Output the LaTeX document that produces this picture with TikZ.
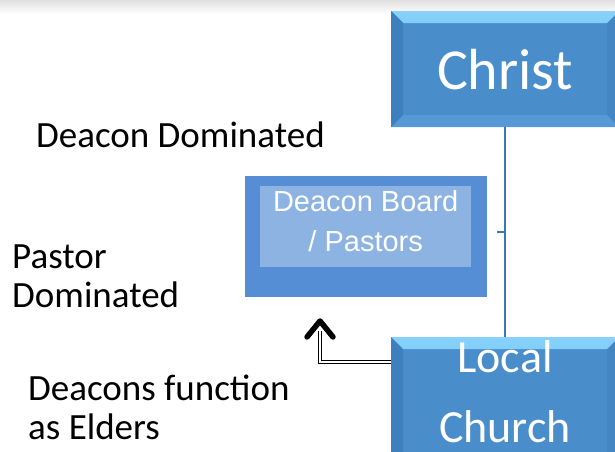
\documentclass[tikz,border=0pt]{standalone}
\usepackage{fontspec}
\setmainfont{Carlito}
\newfontfamily\boardfont{Liberation Sans}
\usetikzlibrary{positioning}

\definecolor{boxblue}{HTML}{4A8DCB}
\definecolor{bevtop}{HTML}{86D2FC}
\definecolor{bevtopb}{HTML}{58A6E2}
\definecolor{bevleft}{HTML}{3E7FC0}
\definecolor{bevbot}{HTML}{5599D6}
\definecolor{bevright}{HTML}{4486C4}
\definecolor{outerblue}{HTML}{558ED5}
\definecolor{innerblue}{HTML}{8DB3E2}
\definecolor{trunkblue}{HTML}{3C78B0}

\tikzset{
  bevelbox/.style={fill=boxblue, inner sep=0pt, text=white,
    path picture={
      \shade[top color=bevtop, bottom color=bevtopb]
        (path picture bounding box.north west) -- (path picture bounding box.north east)
        -- ([xshift=-12pt,yshift=-12pt]path picture bounding box.north east)
        -- ([xshift=12pt,yshift=-12pt]path picture bounding box.north west) -- cycle;
      \fill[bevleft]
        (path picture bounding box.north west) -- ([xshift=12pt,yshift=-12pt]path picture bounding box.north west)
        -- ([xshift=12pt,yshift=12pt]path picture bounding box.south west)
        -- (path picture bounding box.south west) -- cycle;
      \fill[bevbot]
        (path picture bounding box.south west) -- ([xshift=12pt,yshift=12pt]path picture bounding box.south west)
        -- ([xshift=-12pt,yshift=12pt]path picture bounding box.south east)
        -- (path picture bounding box.south east) -- cycle;
      \fill[bevright]
        (path picture bounding box.north east) -- ([xshift=-12pt,yshift=-12pt]path picture bounding box.north east)
        -- ([xshift=-12pt,yshift=12pt]path picture bounding box.south east)
        -- (path picture bounding box.south east) -- cycle;
    }},
  bigword/.style={text=white, inner sep=0pt, font=\fontsize{46}{70}\selectfont},
  sidetext/.style={inner sep=0pt, align=left, font=\fontsize{37}{39}\selectfont},
  trunk/.style={trunkblue, line width=2pt},
  twoline/.style={double, line width=1.3pt, double distance=2pt},
  headline/.style={line width=5.5pt, line cap=round, line join=round}
}

\begin{document}
\begin{tikzpicture}[x=1pt, y=-1pt]
\useasboundingbox (0,0) rectangle (615,451);
\shade[top color=black!12, bottom color=white] (0,0) rectangle (615,14);

% boxes on the right
\node[bevelbox, anchor=north west, minimum width=228pt, minimum height=116pt,
  font=\fontsize{58}{68}\selectfont] (christ) at (391,11) {Christ};
\node[bevelbox, anchor=north west, minimum width=228pt, minimum height=130pt] (church) at (391,337) {};
\node[bigword, anchor=base] (local) at (505,372) {Local};
\node[bigword, anchor=base] (churchword) at (505,442) {Church};

% deacon board
\node[fill=outerblue, minimum width=242pt, minimum height=121pt, anchor=north west] (board) at (245,176) {};
\node[fill=innerblue, minimum width=211pt, minimum height=81pt, inner sep=0pt, anchor=north west,
  text=white, align=center, text depth=12pt, font=\boardfont\fontsize{29}{40}\selectfont]
  (boardname) at (260,186) {Deacon Board\\/ Pastors};

\draw[trunk] (christ.south) -- (christ.south |- church.north);
\coordinate (stub) at (505,232);
\draw[trunk] (stub) -- ++(-8,0);

% arrow
\coordinate (head) at (320,321);
\coordinate (stem) at (320,331);
\draw[twoline] ([yshift=-25pt]church.north west) -| (stem);
\draw[headline] ([xshift=-13pt,yshift=-16pt]head) -- (head) -- ([xshift=13pt,yshift=-16pt]head);

% texts on the left
\node[sidetext, anchor=base west] (deacondom) at (36,147) {Deacon Dominated};
\node[sidetext, anchor=north west] (pastordom) at (12,245) {Pastor\\Dominated};
\node[sidetext, anchor=north west] (elders) at (28,375) {Deacons function\\as Elders};
\end{tikzpicture}
\end{document}
